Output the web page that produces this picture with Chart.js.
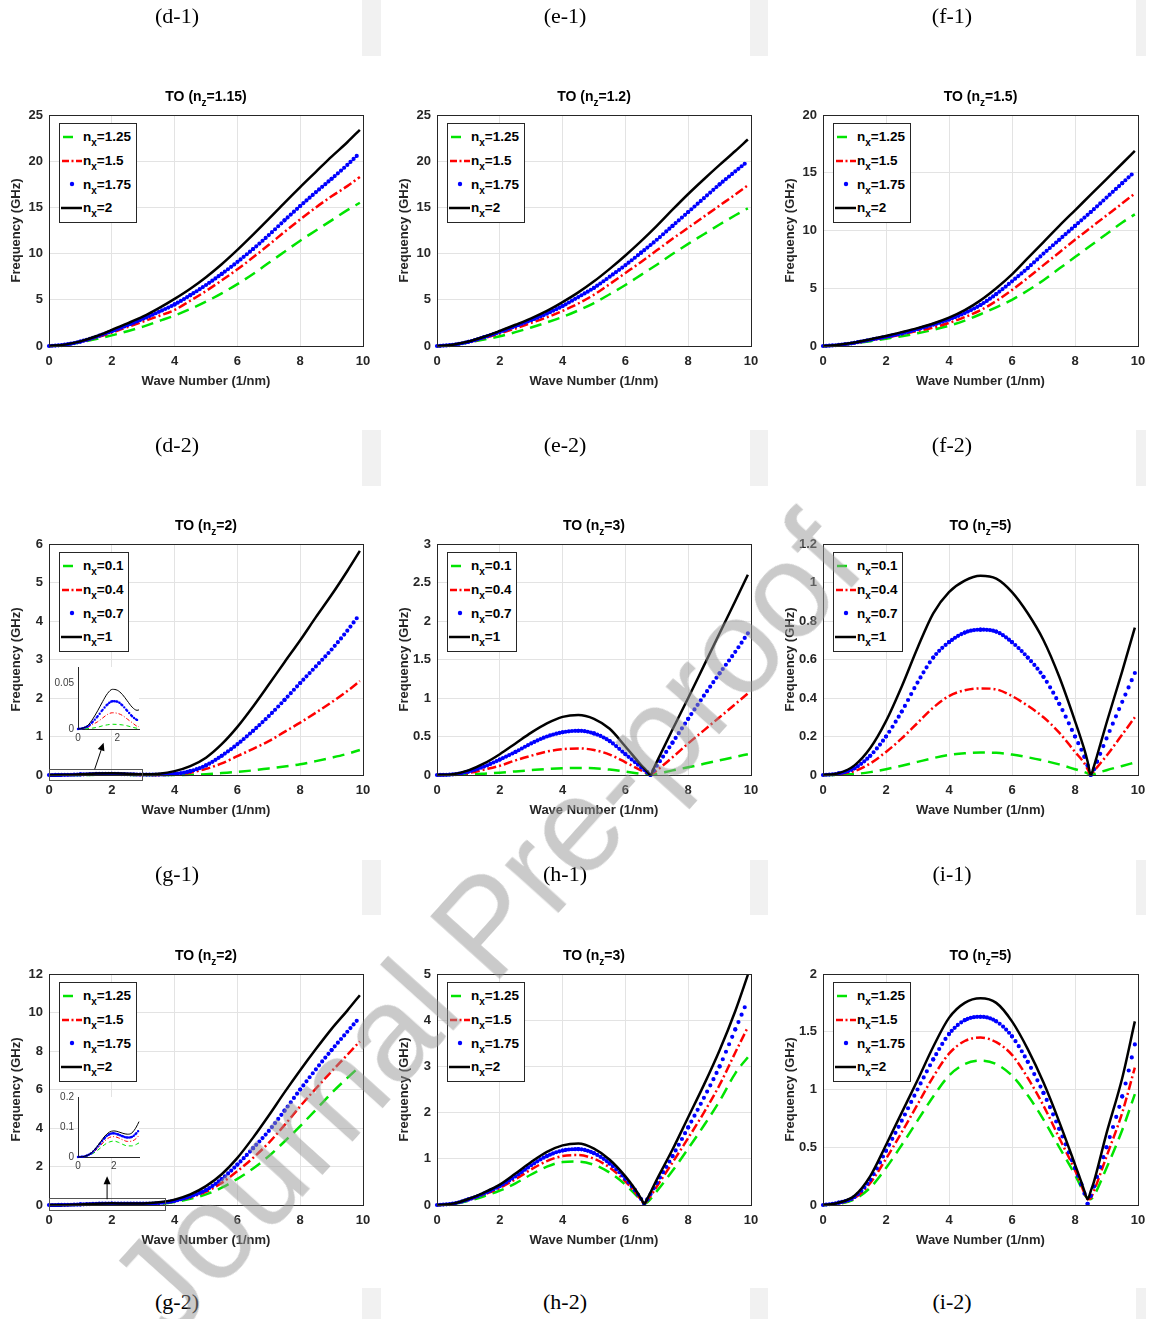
<!DOCTYPE html>
<html>
<head>
<meta charset="utf-8">
<title>TO dispersion curves</title>
<script src="https://cdn.jsdelivr.net/npm/chart.js@4.4.1/dist/chart.umd.min.js"></script>
<style>
  html, body { margin: 0; padding: 0; background: #fff; }
  #page { position: relative; width: 1152px; height: 1319px; overflow: hidden; background: #fff;
          font-family: 'Liberation Sans', Arial, sans-serif; }
  canvas { position: absolute; }
  .cap { position: absolute; font: 22px 'Liberation Serif', 'Times New Roman', serif; color: #000;
         transform: translate(-50%, -50%); white-space: nowrap; }
  .shade { position: absolute; background: #f1f1f1; }
  .title { position: absolute; font-weight: bold; font-size: 14px; line-height: 16px; color: #000;
           transform: translate(-50%, -50%); white-space: nowrap; }
  .sub { font-size: 10px; position: relative; top: 5px; }
  .legend { position: absolute; background: #fff; border: 1px solid #262626; padding: 1px 5px 2px 0;
            font-weight: bold; font-size: 13.5px; color: #000; }
  .legend .row { display: flex; align-items: center; height: 23.7px; white-space: nowrap; }
  .legend svg { width: 23px; height: 12px; flex: none; }
  .wm { position: absolute; left: 485px; top: 925px; font-size: 135px; line-height: 1;
        color: rgba(150, 150, 150, 0.5); white-space: nowrap; pointer-events: none;
        transform: translate(-50%, -50%) rotate(-48deg); z-index: 10; }
</style>
</head>
<body>
<div id="page"></div>
<script>
// wave number samples (1/nm)
const K = [0, 0.5, 1, 1.5, 2, 2.5, 3, 3.5, 4, 4.5, 5, 5.5, 6, 6.5, 7, 7.5, 8, 8.5, 9, 9.5, 9.9];
const H1X = [0, 0.5, 1, 1.5, 2, 2.5, 3, 3.5, 4, 4.5, 5, 5.5, 6, 6.5, 6.7, 6.8, 6.9, 7, 7.5, 8, 8.5, 9, 9.5, 9.9];
const H2X = [0, 0.5, 1, 1.5, 2, 2.5, 3, 3.5, 4, 4.5, 5, 5.5, 6, 6.3, 6.5, 6.6, 6.7, 7, 7.5, 8, 8.5, 9, 9.5, 9.9];
const I1X = [0, 0.5, 1, 1.5, 2, 2.5, 3, 3.5, 4, 4.5, 5, 5.5, 6, 6.5, 7, 7.5, 8, 8.3, 8.4, 8.5, 8.6, 8.7, 9, 9.5, 9.9];
const I2X = [0, 0.5, 1, 1.5, 2, 2.5, 3, 3.5, 4, 4.5, 5, 5.5, 6, 6.5, 7, 7.5, 8, 8.2, 8.3, 8.4, 8.5, 8.6, 9, 9.5, 9.9];
const INSET1X = [0, 0.25, 0.5, 0.75, 1, 1.25, 1.5, 1.75, 2, 2.25, 2.5, 2.75, 3, 3.1];
const INSET2X = [0, 0.25, 0.5, 0.75, 1, 1.25, 1.5, 1.75, 2, 2.25, 2.5, 2.75, 3, 3.25, 3.4];

// TO (nz=1.15)
const d1Green = [0, 0.12, 0.4, 0.75, 1.15, 1.6, 2.1, 2.7, 3.3, 4.0, 4.8, 5.7, 6.7, 7.8, 9.0, 10.2, 11.4, 12.5, 13.6, 14.7, 15.5];
const d1Red = [0, 0.13, 0.45, 0.9, 1.45, 2.05, 2.65, 3.25, 3.9, 4.9, 5.95, 7.1, 8.3, 9.6, 10.95, 12.35, 13.7, 15.0, 16.2, 17.3, 18.3];
const d1Blue = [0, 0.14, 0.48, 1.0, 1.6, 2.25, 2.95, 3.7, 4.5, 5.5, 6.6, 7.8, 9.1, 10.5, 12.0, 13.6, 15.15, 16.65, 18.1, 19.6, 20.9];
const d1Black = [0, 0.15, 0.5, 1.05, 1.75, 2.45, 3.2, 4.1, 5.1, 6.2, 7.45, 8.85, 10.4, 12.05, 13.75, 15.5, 17.2, 18.85, 20.5, 22.05, 23.4];
// TO (nz=1.2)
const e1Green = [0, 0.11, 0.38, 0.7, 1.05, 1.5, 2.0, 2.55, 3.15, 3.85, 4.65, 5.6, 6.6, 7.7, 8.8, 9.95, 11.05, 12.1, 13.15, 14.15, 14.9];
const e1Red = [0, 0.12, 0.42, 0.85, 1.35, 1.9, 2.5, 3.1, 3.8, 4.6, 5.55, 6.7, 7.9, 9.1, 10.35, 11.6, 12.8, 14.0, 15.2, 16.4, 17.4];
const e1Blue = [0, 0.13, 0.45, 0.95, 1.52, 2.15, 2.8, 3.5, 4.33, 5.3, 6.3, 7.5, 8.75, 10.1, 11.5, 13.0, 14.5, 16.0, 17.5, 18.9, 20.0];
const e1Black = [0, 0.14, 0.48, 1.0, 1.63, 2.3, 3.0, 3.8, 4.75, 5.8, 7.0, 8.35, 9.8, 11.35, 13.0, 14.75, 16.45, 18.05, 19.6, 21.1, 22.35];
// TO (nz=1.5)
const f1Green = [0, 0.07, 0.22, 0.42, 0.63, 0.85, 1.1, 1.4, 1.75, 2.2, 2.75, 3.35, 4.0, 4.8, 5.7, 6.7, 7.7, 8.7, 9.7, 10.7, 11.4];
const f1Red = [0, 0.08, 0.25, 0.5, 0.72, 1.0, 1.3, 1.6, 2.0, 2.5, 3.1, 3.9, 4.85, 5.9, 7.0, 8.1, 9.2, 10.25, 11.3, 12.35, 13.2];
const f1Blue = [0, 0.09, 0.28, 0.54, 0.8, 1.1, 1.45, 1.85, 2.3, 2.85, 3.55, 4.5, 5.6, 6.75, 8.0, 9.2, 10.4, 11.6, 12.85, 14.1, 15.1];
const f1Black = [0, 0.1, 0.3, 0.58, 0.87, 1.2, 1.55, 1.95, 2.45, 3.1, 3.95, 5.0, 6.2, 7.6, 9.0, 10.4, 11.75, 13.1, 14.45, 15.8, 16.9];
// TO (nz=2), nx 0.1 .. 1
const g1Green = [0, 0.0005, 0.002, 0.0046, 0.005, 0.0035, 0.0008, 0, 0, 0.005, 0.02, 0.05, 0.08, 0.12, 0.17, 0.22, 0.28, 0.36, 0.45, 0.55, 0.65];
const g1Red = [0, 0.002, 0.008, 0.016, 0.0172, 0.011, 0.003, 0.003, 0.01, 0.06, 0.16, 0.3, 0.49, 0.68, 0.88, 1.12, 1.36, 1.62, 1.89, 2.18, 2.44];
const g1Blue = [0, 0.003, 0.014, 0.027, 0.03, 0.02, 0.01, 0.012, 0.03, 0.1, 0.25, 0.5, 0.8, 1.15, 1.53, 1.95, 2.39, 2.82, 3.26, 3.75, 4.18];
const g1Black = [0, 0.004, 0.02, 0.039, 0.0425, 0.031, 0.0205, 0.035, 0.1, 0.23, 0.45, 0.8, 1.25, 1.78, 2.35, 2.93, 3.5, 4.1, 4.68, 5.3, 5.82];
// TO (nz=3), nx 0.1 .. 1
const h1Green = [0, 0.001, 0.006, 0.017, 0.03, 0.047, 0.063, 0.078, 0.088, 0.092, 0.087, 0.07, 0.044, 0.016, 0.005, 0, 0.008, 0.015, 0.06, 0.1, 0.145, 0.19, 0.235, 0.27];
const h1Red = [0, 0.004, 0.025, 0.07, 0.12, 0.19, 0.25, 0.305, 0.335, 0.345, 0.325, 0.265, 0.165, 0.06, 0.02, 0, 0.03, 0.06, 0.23, 0.41, 0.58, 0.75, 0.92, 1.06];
const h1Blue = [0, 0.007, 0.045, 0.11, 0.2, 0.3, 0.41, 0.5, 0.555, 0.575, 0.54, 0.44, 0.27, 0.1, 0.033, 0, 0.06, 0.12, 0.42, 0.73, 1.03, 1.32, 1.6, 1.84];
const h1Black = [0, 0.01, 0.06, 0.15, 0.27, 0.41, 0.55, 0.67, 0.755, 0.78, 0.73, 0.6, 0.37, 0.13, 0.045, 0, 0.085, 0.17, 0.59, 1.0, 1.42, 1.84, 2.26, 2.6];
// TO (nz=5), nx 0.1 .. 1
const i1Green = [0, 0.001, 0.005, 0.015, 0.03, 0.048, 0.068, 0.088, 0.104, 0.113, 0.117, 0.115, 0.106, 0.092, 0.075, 0.055, 0.03, 0.015, 0.008, 0, 0.004, 0.01, 0.025, 0.047, 0.065];
const i1Red = [0, 0.005, 0.02, 0.06, 0.12, 0.19, 0.27, 0.35, 0.41, 0.44, 0.45, 0.445, 0.41, 0.36, 0.3, 0.22, 0.12, 0.06, 0.03, 0, 0.02, 0.04, 0.1, 0.21, 0.3];
const i1Blue = [0, 0.008, 0.035, 0.1, 0.2, 0.33, 0.48, 0.61, 0.69, 0.74, 0.755, 0.745, 0.69, 0.61, 0.51, 0.37, 0.2, 0.095, 0.05, 0, 0.03, 0.07, 0.19, 0.38, 0.53];
const i1Black = [0, 0.01, 0.05, 0.14, 0.28, 0.46, 0.66, 0.84, 0.95, 1.01, 1.035, 1.02, 0.95, 0.84, 0.7, 0.51, 0.28, 0.13, 0.07, 0, 0.045, 0.1, 0.27, 0.54, 0.766];
// TO (nz=2), nx 1.25 .. 2
const g2Green = [0, 0.003, 0.018, 0.042, 0.053, 0.042, 0.037, 0.05, 0.15, 0.32, 0.55, 0.9, 1.36, 1.9, 2.54, 3.3, 4.1, 4.95, 5.82, 6.6, 7.2];
const g2Red = [0, 0.004, 0.023, 0.054, 0.068, 0.057, 0.053, 0.08, 0.2, 0.4, 0.69, 1.15, 1.76, 2.45, 3.23, 4.15, 5.13, 6.05, 6.94, 7.8, 8.5];
const g2Blue = [0, 0.005, 0.028, 0.064, 0.079, 0.069, 0.067, 0.1, 0.22, 0.45, 0.78, 1.35, 2.1, 2.95, 3.85, 4.9, 6.0, 7.05, 8.05, 9.0, 9.76];
const g2Black = [0, 0.005, 0.03, 0.07, 0.087, 0.079, 0.08, 0.14, 0.28, 0.55, 0.98, 1.6, 2.45, 3.5, 4.65, 5.85, 7.0, 8.1, 9.15, 10.1, 10.9];
// TO (nz=3), nx 1.25 .. 2
const h2Green = [0, 0.02, 0.09, 0.19, 0.31, 0.47, 0.66, 0.83, 0.93, 0.94, 0.87, 0.7, 0.44, 0.24, 0.1, 0.03, 0.06, 0.3, 0.74, 1.22, 1.72, 2.25, 2.85, 3.2];
const h2Red = [0, 0.025, 0.11, 0.23, 0.37, 0.56, 0.77, 0.95, 1.06, 1.08, 1.0, 0.81, 0.51, 0.28, 0.11, 0.03, 0.1, 0.4, 0.92, 1.45, 2.0, 2.6, 3.3, 3.85];
const h2Blue = [0, 0.03, 0.12, 0.25, 0.41, 0.62, 0.86, 1.06, 1.18, 1.21, 1.12, 0.9, 0.57, 0.32, 0.13, 0.03, 0.12, 0.48, 1.06, 1.68, 2.32, 3.0, 3.8, 4.44];
const h2Black = [0, 0.03, 0.13, 0.27, 0.44, 0.68, 0.93, 1.15, 1.29, 1.33, 1.22, 0.98, 0.62, 0.35, 0.14, 0.03, 0.14, 0.55, 1.2, 1.9, 2.6, 3.35, 4.2, 4.98];
// TO (nz=5), nx 1.25 .. 2
const i2Green = [0, 0.01, 0.05, 0.15, 0.32, 0.52, 0.73, 0.94, 1.12, 1.22, 1.25, 1.22, 1.12, 0.95, 0.74, 0.5, 0.26, 0.15, 0.09, 0.06, 0.05, 0.08, 0.32, 0.65, 0.96];
const i2Red = [0, 0.015, 0.06, 0.19, 0.4, 0.63, 0.87, 1.11, 1.31, 1.42, 1.45, 1.41, 1.3, 1.1, 0.86, 0.58, 0.3, 0.17, 0.1, 0.05, 0.06, 0.12, 0.42, 0.8, 1.19];
const i2Blue = [0, 0.02, 0.07, 0.22, 0.47, 0.73, 1.0, 1.26, 1.48, 1.6, 1.63, 1.59, 1.46, 1.24, 0.97, 0.66, 0.32, 0.18, 0.1, 0.01, 0.08, 0.16, 0.5, 0.94, 1.39];
const i2Black = [0, 0.02, 0.08, 0.25, 0.52, 0.8, 1.08, 1.37, 1.62, 1.75, 1.79, 1.75, 1.59, 1.35, 1.06, 0.72, 0.35, 0.2, 0.12, 0.05, 0.12, 0.2, 0.62, 1.1, 1.59];
// zoomed insets near k = 0..3
const in1Green = [0, 0, 0.0005, 0.001, 0.002, 0.0035, 0.0046, 0.0052, 0.005, 0.0045, 0.0035, 0.002, 0.0008, 0.0005];
const in1Red = [0, 0.0005, 0.002, 0.005, 0.008, 0.012, 0.016, 0.0178, 0.0172, 0.015, 0.011, 0.007, 0.003, 0.0026];
const in1Blue = [0, 0.001, 0.003, 0.008, 0.014, 0.021, 0.027, 0.0305, 0.03, 0.026, 0.02, 0.014, 0.01, 0.0095];
const in1Black = [0, 0.001, 0.004, 0.011, 0.02, 0.03, 0.039, 0.0435, 0.0425, 0.038, 0.031, 0.024, 0.0205, 0.021];
const in2Green = [0, 0.001, 0.003, 0.009, 0.018, 0.03, 0.042, 0.05, 0.053, 0.049, 0.042, 0.037, 0.037, 0.042, 0.047];
const in2Red = [0, 0.001, 0.004, 0.011, 0.023, 0.038, 0.054, 0.065, 0.068, 0.064, 0.057, 0.052, 0.053, 0.062, 0.072];
const in2Blue = [0, 0.001, 0.005, 0.013, 0.028, 0.046, 0.064, 0.076, 0.079, 0.075, 0.069, 0.065, 0.067, 0.079, 0.09];
const in2Black = [0, 0.001, 0.005, 0.014, 0.03, 0.05, 0.07, 0.083, 0.087, 0.084, 0.079, 0.076, 0.08, 0.1, 0.118];

const LABELS_A = ['1.25', '1.5', '1.75', '2'];
const LABELS_B = ['0.1', '0.4', '0.7', '1'];
const NZ = ['1.15', '1.2', '1.5', '2', '3', '5', '2', '3', '5'];
const Y_MAX = [25, 25, 20, 6, 3, 1.2, 12, 5, 2];
const Y_STEP = [5, 5, 5, 1, 0.5, 0.2, 2, 1, 0.5];
const CAPTIONS = [
  ['(d-1)', '(e-1)', '(f-1)'],
  ['(d-2)', '(e-2)', '(f-2)'],
  ['(g-1)', '(h-1)', '(i-1)'],
  ['(g-2)', '(h-2)', '(i-2)']
];

const panels = [
  {x: K, series: [d1Green, d1Red, d1Blue, d1Black], labels: LABELS_A},
  {x: K, series: [e1Green, e1Red, e1Blue, e1Black], labels: LABELS_A},
  {x: K, series: [f1Green, f1Red, f1Blue, f1Black], labels: LABELS_A},
  {x: K, series: [g1Green, g1Red, g1Blue, g1Black], labels: LABELS_B,
   callout: {box: [0, 2.95, -0.11, 0.166], arrow: [1.455, 0.15, 1.74, 0.84]}},
  {x: H1X, series: [h1Green, h1Red, h1Blue, h1Black], labels: LABELS_B},
  {x: I1X, series: [i1Green, i1Red, i1Blue, i1Black], labels: LABELS_B},
  {x: K, series: [g2Green, g2Red, g2Blue, g2Black], labels: LABELS_A,
   callout: {box: [0, 3.69, -0.22, 0.38], arrow: [1.85, 0.3, 1.85, 1.5]}},
  {x: H2X, series: [h2Green, h2Red, h2Blue, h2Black], labels: LABELS_A},
  {x: I2X, series: [i2Green, i2Red, i2Blue, i2Black], labels: LABELS_A}
];

const insets = [
  {x: INSET1X, series: [in1Green, in1Red, in1Blue, in1Black], xMax: 3.1, yMax: 0.068, yTicks: [0, 0.05],
   left: 50, top: 655, width: 100, height: 92},
  {x: INSET2X, series: [in2Green, in2Red, in2Blue, in2Black], xMax: 3.4, yMax: 0.2, yTicks: [0, 0.1, 0.2],
   left: 50, top: 1085, width: 100, height: 90}
];

// layout of the 3x3 grid (page pixels)
const COL_LEFT = [49, 437, 823];
const COL_WIDTH = [314, 314, 315];
const ROW_TOP = [115, 544, 974];
const CAPTION_Y = [16, 445, 874, 1302];
const CAPTION_X = [177, 565, 952];
const SHADE_X = [[362, 19], [750, 18], [1136, 10]];
const SHADE_Y = [[0, 56], [430, 56], [860, 55], [1288, 31]];

const COLORS = ['#00e400', '#ff0000', '#0000ff', '#000000'];
const FONT = "'Liberation Sans', Arial, sans-serif";
const INK = '#262626';

const page = document.getElementById('page');

// matlab-like tick text: 1 rather than 1.0
const tickText = v => String(Math.round(v * 1000) / 1000);

// blue series: one dot every 0.1 of wave number, like the sampled MATLAB markers
function dotDash(c, xs) {
  const chord = Math.hypot(c.p1.x - c.p0.x, c.p1.y - c.p0.y);
  const du = xs[c.p1DataIndex] - xs[c.p0DataIndex];
  return [0, Math.max(chord * 0.1 / du, 1)];
}

function makeSets(xs, series, small) {
  return series.map((ys, i) => {
    const ds = {
      data: xs.map((x, j) => ({x: x, y: ys[j]})),
      borderColor: COLORS[i],
      backgroundColor: COLORS[i],
      borderWidth: small ? 1 : 2.5,
      pointRadius: 0,
      cubicInterpolationMode: 'monotone',
      fill: false,
      clip: small ? 3 : 6,
      order: 3 - i
    };
    if (i === 0) ds.borderDash = small ? [4, 3] : [12, 7];
    if (i === 1) ds.borderDash = small ? [4, 2, 1, 2] : [9, 3, 2, 3];
    if (i === 2) {
      ds.borderWidth = small ? 2.4 : 4.2;
      ds.borderCapStyle = 'round';
      ds.segment = {borderDash: c => dotDash(c, xs)};
    }
    return ds;
  });
}

const framePlugin = {
  id: 'frame',
  afterDatasetsDraw(chart) {
    const {ctx, chartArea: a} = chart;
    ctx.save();
    ctx.strokeStyle = INK;
    ctx.lineWidth = 1;
    ctx.strokeRect(Math.round(a.left) + 0.5, Math.round(a.top) + 0.5,
                   Math.round(a.right - a.left), Math.round(a.bottom - a.top));
    ctx.restore();
  }
};

const calloutPlugin = {
  id: 'callout',
  afterDatasetsDraw(chart, args, opts) {
    if (!opts || !opts.box) return;
    const {ctx, scales: {x, y}} = chart;
    const [bx0, bx1, by0, by1] = opts.box;
    const L = x.getPixelForValue(bx0), R = x.getPixelForValue(bx1);
    const T = y.getPixelForValue(by1), B = y.getPixelForValue(by0);
    ctx.save();
    ctx.strokeStyle = '#555';
    ctx.lineWidth = 1;
    ctx.strokeRect(Math.round(L) + 0.5, Math.round(T) + 0.5, Math.round(R - L), Math.round(B - T));
    const [ax0, ay0, ax1, ay1] = opts.arrow;
    const p0 = [x.getPixelForValue(ax0), y.getPixelForValue(ay0)];
    const p1 = [x.getPixelForValue(ax1), y.getPixelForValue(ay1)];
    const ang = Math.atan2(p1[1] - p0[1], p1[0] - p0[0]);
    ctx.strokeStyle = '#000';
    ctx.fillStyle = '#000';
    ctx.beginPath();
    ctx.moveTo(p0[0], p0[1]);
    ctx.lineTo(p1[0] - 4 * Math.cos(ang), p1[1] - 4 * Math.sin(ang));
    ctx.stroke();
    ctx.beginPath();
    ctx.moveTo(p1[0], p1[1]);
    ctx.lineTo(p1[0] - 8 * Math.cos(ang) + 3.5 * Math.sin(ang), p1[1] - 8 * Math.sin(ang) - 3.5 * Math.cos(ang));
    ctx.lineTo(p1[0] - 8 * Math.cos(ang) - 3.5 * Math.sin(ang), p1[1] - 8 * Math.sin(ang) + 3.5 * Math.cos(ang));
    ctx.closePath();
    ctx.fill();
    ctx.restore();
  }
};

const whiteAreaPlugin = {
  id: 'whiteArea',
  beforeDraw(chart) {
    const {ctx, chartArea: a} = chart;
    ctx.save();
    ctx.fillStyle = '#fff';
    ctx.fillRect(a.left, a.top, a.right - a.left, a.bottom - a.top);
    ctx.restore();
  }
};

function addCanvas(left, top, w, h) {
  const cv = document.createElement('canvas');
  cv.width = w;
  cv.height = h;
  cv.style.left = left + 'px';
  cv.style.top = top + 'px';
  cv.style.width = w + 'px';
  cv.style.height = h + 'px';
  page.appendChild(cv);
  return cv;
}

function sampleSvg(i) {
  const c = COLORS[i];
  if (i === 0) return `<svg><line x1="3" y1="6" x2="22" y2="6" stroke="${c}" stroke-width="2.5" stroke-dasharray="10 10"/></svg>`;
  if (i === 1) return `<svg><line x1="2" y1="6" x2="22" y2="6" stroke="${c}" stroke-width="2.5" stroke-dasharray="7 2.5 2 2.5"/></svg>`;
  if (i === 2) return `<svg><circle cx="12" cy="6" r="2.2" fill="${c}"/></svg>`;
  return `<svg><line x1="1" y1="6" x2="22" y2="6" stroke="${c}" stroke-width="2.5"/></svg>`;
}

panels.forEach((p, idx) => {
  const row = Math.floor(idx / 3), col = idx % 3;
  const plotL = COL_LEFT[col], plotT = ROW_TOP[row], plotW = COL_WIDTH[col];
  const cvLeft = plotL - 49, cvTop = plotT - 35;
  const cvW = 49 + plotW + 17, cvH = 320;
  const cv = addCanvas(cvLeft, cvTop, cvW, cvH);
  const tickFont = {family: FONT, size: 13, weight: 'bold'};

  new Chart(cv, {
    type: 'line',
    data: {datasets: makeSets(p.x, p.series, false)},
    options: {
      responsive: false,
      animation: false,
      devicePixelRatio: 1,
      events: [],
      layout: {padding: {left: 0, top: 35, right: 17, bottom: 0}},
      plugins: {legend: {display: false}, tooltip: {enabled: false}, callout: p.callout || {}},
      scales: {
        x: {
          type: 'linear', min: 0, max: 10,
          ticks: {stepSize: 2, font: tickFont, color: INK, padding: 8, maxRotation: 0, callback: tickText},
          grid: {color: '#e3e3e3', drawTicks: false},
          border: {display: false},
          title: {display: true, text: 'Wave Number (1/nm)', font: tickFont, color: INK, padding: {top: 0, bottom: 11}},
          afterFit: s => { s.height = 54; }
        },
        y: {
          type: 'linear', min: 0, max: Y_MAX[idx],
          ticks: {stepSize: Y_STEP[idx], font: tickFont, color: INK, padding: 6, callback: tickText},
          grid: {color: '#e3e3e3', drawTicks: false},
          border: {display: false},
          title: {display: true, text: 'Frequency (GHz)', font: tickFont, color: INK, padding: {top: 9, bottom: 0}},
          afterFit: s => { s.width = 49; }
        }
      }
    },
    plugins: [framePlugin, calloutPlugin]
  });

  const t = document.createElement('div');
  t.className = 'title';
  t.style.left = (plotL + plotW / 2) + 'px';
  t.style.top = (plotT - 18) + 'px';
  t.innerHTML = `TO (n<span class="sub">z</span>=${NZ[idx]})`;
  page.appendChild(t);

  const lg = document.createElement('div');
  lg.className = 'legend';
  lg.style.left = (plotL + 10) + 'px';
  lg.style.top = (plotT + 8) + 'px';
  lg.innerHTML = p.labels.map((lab, i) =>
    `<div class="row">${sampleSvg(i)}<span>n<span class="sub">x</span>=${lab}</span></div>`).join('');
  page.appendChild(lg);
});

insets.forEach(ins => {
  const cv = addCanvas(ins.left, ins.top, ins.width, ins.height);
  const f = {family: FONT, size: 10};
  new Chart(cv, {
    type: 'line',
    data: {datasets: makeSets(ins.x, ins.series, true)},
    options: {
      responsive: false,
      animation: false,
      devicePixelRatio: 1,
      events: [],
      layout: {padding: {left: 0, top: 12, right: 11, bottom: 0}},
      plugins: {legend: {display: false}, tooltip: {enabled: false}},
      scales: {
        x: {
          type: 'linear', min: 0, max: ins.xMax,
          afterBuildTicks: s => { s.ticks = [{value: 0}, {value: 2}]; },
          ticks: {font: f, color: '#404040', padding: 3, maxRotation: 0, callback: tickText},
          grid: {display: false, drawTicks: false},
          border: {display: true, color: INK, width: 1},
          afterFit: s => { s.height = 18; }
        },
        y: {
          type: 'linear', min: 0, max: ins.yMax,
          afterBuildTicks: s => { s.ticks = ins.yTicks.map(v => ({value: v})); },
          ticks: {font: f, color: '#404040', padding: 4, callback: tickText},
          grid: {display: false, drawTicks: false},
          border: {display: true, color: INK, width: 1},
          afterFit: s => { s.width = 28; }
        }
      }
    },
    plugins: [whiteAreaPlugin]
  });
});

CAPTIONS.forEach((rowCaps, r) => {
  rowCaps.forEach((txt, c) => {
    const d = document.createElement('div');
    d.className = 'cap';
    d.style.left = CAPTION_X[c] + 'px';
    d.style.top = CAPTION_Y[r] + 'px';
    d.textContent = txt;
    page.appendChild(d);
    const s = document.createElement('div');
    s.className = 'shade';
    s.style.left = SHADE_X[c][0] + 'px';
    s.style.width = SHADE_X[c][1] + 'px';
    s.style.top = SHADE_Y[r][0] + 'px';
    s.style.height = SHADE_Y[r][1] + 'px';
    page.appendChild(s);
  });
});

const wm = document.createElement('div');
wm.className = 'wm';
wm.textContent = 'Journal Pre-proof';
page.appendChild(wm);
</script>
</body>
</html>
